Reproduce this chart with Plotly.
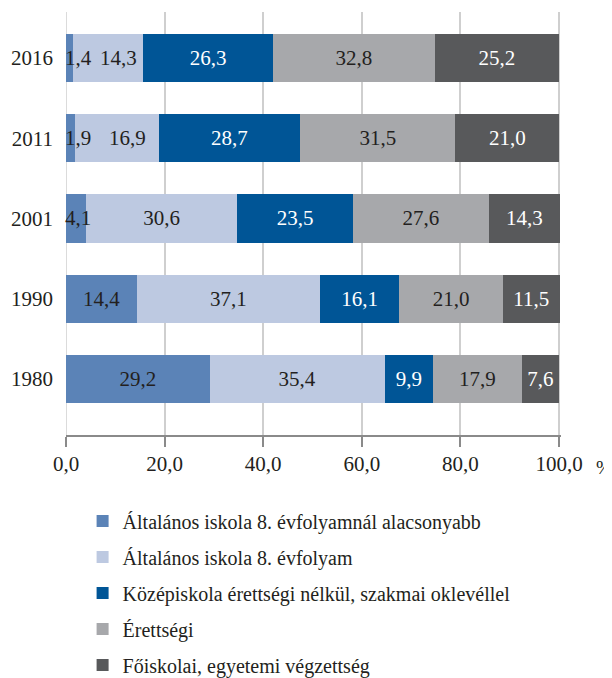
import plotly.graph_objects as go

years = ["1980", "1990", "2001", "2011", "2016"]
series_names = [
    "Általános iskola 8. évfolyamnál alacsonyabb",
    "Általános iskola 8. évfolyam",
    "Középiskola érettségi nélkül, szakmai oklevéllel",
    "Érettségi",
    "Főiskolai, egyetemi végzettség",
]
below8 = [29.2, 14.4, 4.1, 1.9, 1.4]
grade8 = [35.4, 37.1, 30.6, 16.9, 14.3]
vocational = [9.9, 16.1, 23.5, 28.7, 26.3]
matura = [17.9, 21.0, 27.6, 31.5, 32.8]
higher = [7.6, 11.5, 14.3, 21.0, 25.2]
x_ticks = [0, 20, 40, 60, 80, 100]

colors = ["#5b83b7", "#bdc9e1", "#005596", "#a7a8ab", "#58595b"]
text_colors = ["#231f20", "#231f20", "#ffffff", "#231f20", "#ffffff"]
FONT = "Liberation Serif"
FS = 21


def fmt(v):
    return f"{v:.1f}".replace(".", ",")


all_series = [below8, grade8, vocational, matura, higher]
fig = go.Figure()
for i, (name, vals) in enumerate(zip(series_names, all_series)):
    if i == 0:
        texts = [fmt(v) if v >= 5 else "" for v in vals]
    elif i == 1:
        texts = [fmt(v) if b >= 3 else "" for v, b in zip(vals, below8)]
    else:
        texts = [fmt(v) for v in vals]
    fig.add_trace(go.Bar(
        y=years, x=vals, name=name, orientation="h",
        marker=dict(color=colors[i], line=dict(width=0)),
        text=texts, textposition="inside", insidetextanchor="middle",
        textangle=0, constraintext="none",
        textfont=dict(family=FONT, size=FS, color=text_colors[i]),
        legendgroup=f"g{i}", hoverinfo="skip",
    ))

# labels of tiny first segments (overflowing their bars) and the neighbours nudged aside
for idx, (b, g) in enumerate(zip(below8, grade8)):
    if b < 5:
        fig.add_annotation(x=0, y=idx, xref="x", yref="y", xanchor="left",
                           xshift=-3, text=fmt(b), showarrow=False,
                           font=dict(family=FONT, size=FS, color="#231f20"))
    if b < 3:
        fig.add_annotation(x=b + g / 2, y=idx, xref="x", yref="y",
                           xanchor="center", xshift=10, text=fmt(g),
                           showarrow=False,
                           font=dict(family=FONT, size=FS, color="#231f20"))

fig.add_annotation(x=1.0, y=0, xref="paper", yref="paper", xanchor="left",
                   yanchor="middle", xshift=33, yshift=-32, text="%",
                   showarrow=False, font=dict(family=FONT, size=19, color="#231f20"))

fig.update_layout(
    width=604, height=670,
    barmode="stack", bargap=0.4,
    separators=", ",
    plot_bgcolor="white", paper_bgcolor="white",
    margin=dict(l=58, r=51, t=4, b=243, autoexpand=False),
    font=dict(family=FONT, size=FS, color="#231f20"),
    showlegend=True,
    legend=dict(
        orientation="v", traceorder="grouped", tracegroupgap=7,
        xref="container", yref="container", x=0.1235, y=0.2635,
        xanchor="left", yanchor="top",
        font=dict(family=FONT, size=20, color="#231f20"),
        itemwidth=30,
    ),
)
fig.update_xaxes(
    range=[0, 100.4], tickvals=x_ticks, tickformat=".1f", tickangle=0,
    showgrid=True, gridcolor="#cfcfcf", gridwidth=1.5,
    zeroline=False,
    showline=True, linecolor="#8a8a8a", linewidth=2,
    ticks="outside", ticklen=10, tickwidth=2, tickcolor="#8a8a8a",
    ticklabelstandoff=-1,
    tickfont=dict(family=FONT, size=FS, color="#231f20"),
)
fig.update_yaxes(
    type="category", categoryorder="array", categoryarray=years,
    range=[-0.7, 4.575], showgrid=False, zeroline=False, showline=False,
    ticks="", ticklabelstandoff=12,
    tickfont=dict(family=FONT, size=FS, color="#231f20"),
)
fig.add_vline(x=0, line=dict(color="#cfcfcf", width=1.5), layer="below")

fig.write_html("out.html")
